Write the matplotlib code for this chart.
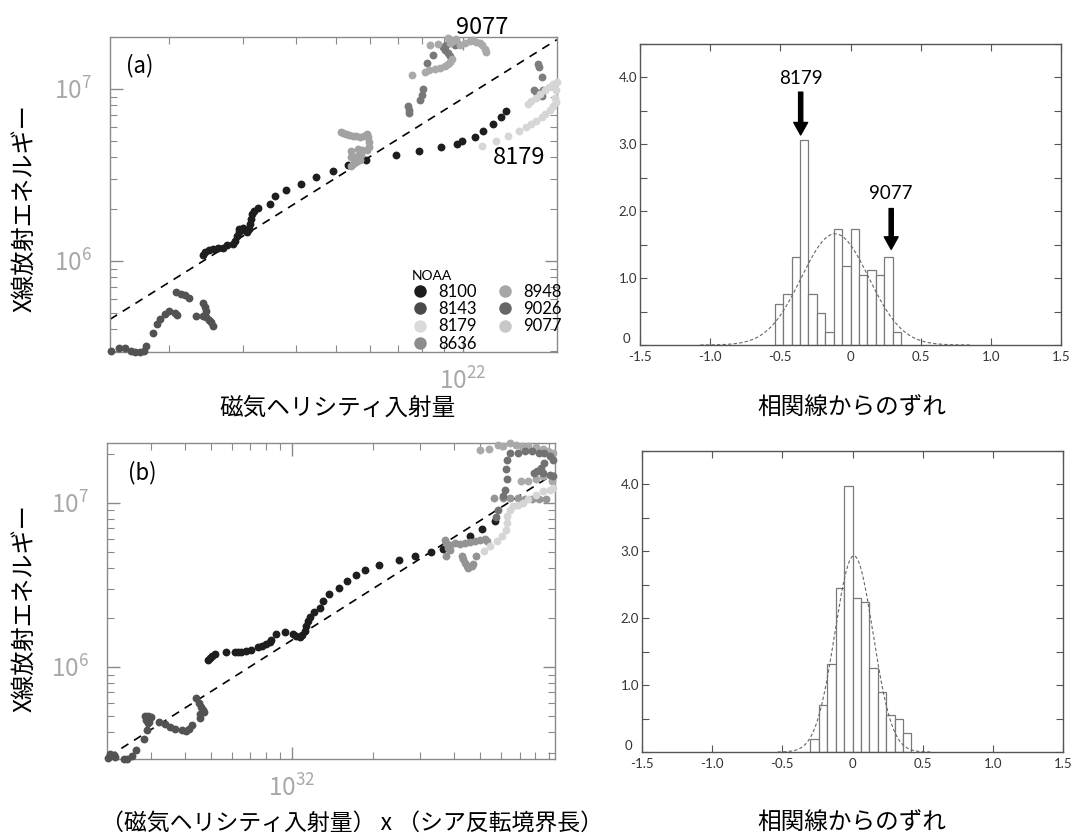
import numpy as np
import matplotlib
matplotlib.use("Agg")
import matplotlib.pyplot as plt
from matplotlib.lines import Line2D
from matplotlib.ticker import LogLocator, LogFormatterMathtext, NullFormatter, FixedLocator, FuncFormatter

plt.rcParams['font.family'] = ['Noto Sans CJK JP', 'DejaVu Sans']
plt.rcParams['mathtext.fontset'] = 'custom'
plt.rcParams['mathtext.rm'] = 'Lato:light'
plt.rcParams['mathtext.default'] = 'regular'

# ---- panel (a): x in 1e21, y in 1e6 ----
a_8143_x = [1.45, 1.52, 1.57, 1.62, 1.66, 1.70, 1.74, 1.76, 1.83, 1.87, 1.90, 1.95, 2.00, 2.06,
            2.09, 2.08, 2.13, 2.18, 2.23, 2.31, 2.40, 2.43, 2.44, 2.41, 2.45, 2.48, 2.51, 2.54]
a_8143_y = [0.297, 0.31, 0.31, 0.30, 0.296, 0.296, 0.30, 0.32, 0.38, 0.43, 0.46, 0.49, 0.51, 0.50,
            0.485, 0.66, 0.645, 0.63, 0.61, 0.48, 0.57, 0.54, 0.51, 0.48, 0.47, 0.45, 0.44, 0.42]

a_8100_x = [2.41, 2.43, 2.48, 2.54, 2.61, 2.68, 2.75, 2.84, 2.86, 2.90, 2.93, 2.93, 2.99, 3.04,
            3.07, 3.10, 3.11, 3.13, 3.15, 3.18, 3.26, 3.47, 3.58, 3.80, 4.12, 4.47, 4.91, 5.32,
            5.87, 6.93, 7.88, 8.86, 9.67, 9.96, 10.67, 11.2, 11.8, 12.3, 12.7]
a_8100_y = [1.08, 1.12, 1.16, 1.17, 1.19, 1.185, 1.23, 1.26, 1.31, 1.39, 1.47, 1.54, 1.55, 1.50,
            1.47, 1.54, 1.64, 1.76, 1.88, 1.94, 2.03, 2.15, 2.38, 2.59, 2.81, 3.07, 3.33, 3.59,
            3.88, 4.14, 4.37, 4.57, 4.78, 4.96, 5.23, 5.72, 6.25, 6.90, 7.41]

a_8948_x = [5.12, 5.19, 5.27, 5.37, 5.48, 5.58, 5.70, 5.81, 5.90, 5.96, 5.98, 5.98, 5.90, 5.43,
            5.64, 5.75, 5.43, 5.53, 5.64, 5.72, 5.70, 5.58, 5.48, 5.43]
a_8948_y = [5.64, 5.54, 5.47, 5.40, 5.35, 5.30, 5.23, 5.30, 5.47, 5.23, 4.89, 4.57, 4.41, 4.37,
            4.47, 4.43, 4.00, 4.00, 4.05, 4.14, 3.83, 3.74, 3.66, 3.58]

a_9077_x = [7.56, 8.14, 8.33, 8.57, 8.81, 9.05, 9.21, 9.34, 9.43, 8.37, 8.72, 9.21, 9.39, 9.50,
            9.62, 9.34, 9.82, 10.1, 10.38, 10.56, 10.77, 10.96, 11.11, 11.27, 11.33]
a_9077_y = [12.0, 12.5, 12.8, 13.1, 13.2, 13.5, 13.9, 14.3, 14.8, 18.0, 18.3, 19.8, 19.3, 18.9,
            19.5, 18.4, 17.9, 18.4, 18.9, 19.3, 18.7, 18.4, 17.9, 17.1, 16.4]

a_9026_x = [7.40, 7.43, 7.45, 7.92, 7.98, 8.03, 8.22, 8.48, 8.96, 9.08, 9.21, 9.30, 9.67, 9.56, 9.14]
a_9026_y = [7.89, 7.48, 7.21, 8.55, 9.22, 10.0, 14.2, 15.8, 17.5, 16.7, 16.1, 15.6, 18.4, 17.9, 17.9]

a_8636_x = [15.1, 15.18, 15.45, 14.8, 14.9, 15.18, 15.4, 15.5]
a_8636_y = [13.9, 13.4, 11.7, 9.78, 9.56, 9.35, 9.14, 9.78]

a_8179_x = [11.11, 11.97, 12.8, 13.6, 14.17, 14.56, 14.97, 15.4, 15.7, 16.1, 16.37, 16.7,
            14.3, 14.56, 14.97, 15.3, 15.66, 16.03, 16.37, 16.75, 16.6, 16.7]
a_8179_y = [4.63, 4.96, 5.30, 5.67, 5.98, 6.25, 6.54, 6.84, 7.15, 7.55, 7.89, 8.36,
            8.11, 8.48, 8.87, 9.35, 9.87, 10.3, 10.7, 10.9, 8.8, 9.78]

a_fit_x = [1.445, 16.75]
a_fit_y = [0.457, 19.3]

# ---- panel (b): x in 1e31, y in 1e6 ----
b_8143_x = [2.07, 2.12, 2.18, 2.21, 2.38, 2.45, 2.55, 2.65, 2.82, 2.90, 2.92, 2.84, 2.92, 2.99,
            2.88, 2.94, 3.20, 3.39, 3.52, 3.67, 3.90, 4.03, 4.14, 4.27, 4.42, 4.51, 4.59, 4.68,
            4.72, 4.55, 4.55]
b_8143_y = [0.279, 0.295, 0.292, 0.283, 0.275, 0.275, 0.285, 0.310, 0.366, 0.415, 0.456, 0.50,
            0.50, 0.493, 0.473, 0.46, 0.46, 0.451, 0.431, 0.419, 0.411, 0.405, 0.419, 0.445,
            0.647, 0.603, 0.570, 0.55, 0.529, 0.519, 0.489]

b_8100_x = [4.88, 4.95, 5.05, 5.17, 5.68, 6.13, 6.31, 6.49, 6.78, 7.03, 7.48, 7.74, 8.04, 8.28,
            8.39, 8.76, 9.46, 10.09, 10.39, 10.7, 10.93, 11.16, 11.32, 11.47, 11.65, 12.05,
            12.77, 13.05, 13.74, 14.92, 16.0, 17.37, 18.64, 21.0, 24.93, 28.76, 32.71, 36.4,
            46.0, 50.6, 56.65]
b_8100_y = [1.10, 1.135, 1.17, 1.205, 1.23, 1.24, 1.24, 1.24, 1.25, 1.275, 1.32, 1.35, 1.39,
            1.43, 1.47, 1.60, 1.63, 1.60, 1.55, 1.52, 1.575, 1.65, 1.77, 1.90, 2.02, 2.15, 2.29,
            2.51, 2.80, 3.03, 3.33, 3.62, 3.89, 4.19, 4.49, 4.77, 5.0, 5.24, 6.26, 6.94, 7.73]

b_8636_x = [36.95, 37.5, 38.6, 40.3, 42.0, 43.85, 45.77, 47.75, 49.85, 52.0, 52.96, 37.98, 38.6,
            37.5, 42.66, 43.2, 43.85, 44.5, 45.07, 46.5, 47.0, 48.2]
b_8636_y = [5.98, 5.70, 5.57, 5.70, 5.65, 5.70, 5.75, 5.84, 5.98, 6.03, 5.84, 5.31, 5.14, 4.77,
            4.73, 4.56, 4.31, 4.11, 4.02, 4.11, 4.27, 4.73]

b_8948_x = [56.5, 61.0, 64.8, 68.9, 73.2, 77.8, 82.8, 87.9]
b_8948_y = [10.7, 10.7, 10.7, 10.7, 10.5, 10.5, 10.5, 10.5]

b_9077_x = [50.0, 54.0, 58.2, 61.0, 64.4, 67.9, 71.4, 75.5, 80.3, 85.3, 89.3, 93.0,
            71.0, 75.5, 80.3, 85.3, 92.1]
b_9077_y = [20.9, 21.3, 22.7, 22.4, 23.2, 22.7, 22.2, 22.4, 21.9, 21.3, 20.6, 20.2,
            13.55, 13.7, 13.9, 14.5, 13.55]

b_9026_x = [62.9, 62.5, 62.9, 61.9, 61.0, 58.2, 57.4, 64.8, 68.9, 73.2, 77.8, 82.8, 86.6, 90.7,
            93.5, 86.6, 84.0, 81.5, 79.0, 85.3, 90.7, 93.5]
b_9026_y = [18.4, 16.1, 13.9, 12.06, 11.1, 9.11, 8.21, 20.2, 20.2, 20.6, 20.6, 20.2, 20.2, 19.3,
            18.4, 17.5, 16.3, 15.6, 15.2, 15.2, 14.9, 14.5]

b_8179_x = [51.5, 54.6, 57.7, 60.4, 62.3, 62.9, 62.9, 64.4, 66.2, 69.1, 72.1, 75.5, 80.3, 85.3,
            90.7, 93.5]
b_8179_y = [5.07, 5.44, 5.84, 6.26, 6.88, 7.55, 8.29, 9.11, 9.54, 9.77, 10.0, 10.5, 11.2, 11.8,
            12.06, 12.3]

b_fit_x = [2.09, 94.8]
b_fit_y = [0.285, 15.2]

# ---- histograms of deviation ----
hist_a_left = -0.54
hist_a_heights = [0.62, 0.76, 1.32, 3.07, 0.76, 0.48, 0.20, 1.74, 1.18, 1.74, 1.04, 1.12, 1.04, 1.32, 0.20]
hist_b_left = -0.30
hist_b_heights = [0.20, 0.70, 1.32, 2.45, 3.97, 2.30, 2.24, 1.26, 0.90, 0.56, 0.49, 0.28]
bin_w = 0.06
gauss_a = (-0.11, 0.24)   # mean, sigma
gauss_b = (0.01, 0.136)

noaa = ['8100', '8143', '8179', '8636', '8948', '9026', '9077']
legend_colors = ['#1c1c1c', '#4a4a4a', '#dadada', '#8c8c8c', '#a6a6a6', '#666666', '#c8c8c8']

W, H = 1071, 835
fig = plt.figure(figsize=(W / 100, H / 100), dpi=100)


def box(l, t, r, b):
    return [l / W, 1 - b / H, (r - l) / W, (b - t) / H]


ax_a = fig.add_axes(box(110, 37, 557, 352))
ax_b = fig.add_axes(box(107, 443, 555, 759))
ax_ha = fig.add_axes(box(640, 44, 1061, 345))
ax_hb = fig.add_axes(box(642, 451, 1063, 752))


def style_log(ax, xlim, ylim):
    ax.set_xscale('log')
    ax.set_yscale('log')
    ax.set_xlim(*xlim)
    ax.set_ylim(*ylim)
    for a in (ax.xaxis, ax.yaxis):
        a.set_major_locator(LogLocator(base=10))
        a.set_minor_locator(LogLocator(base=10, subs=range(2, 10)))
        a.set_major_formatter(LogFormatterMathtext())
        a.set_minor_formatter(NullFormatter())
    ax.tick_params(which='both', direction='in', top=True, right=True, color='#8a8a8a',
                   labelcolor='#a8a8a8', labelsize=17.5)
    ax.tick_params(which='major', length=9, width=1)
    ax.tick_params(which='minor', length=5, width=0.8)
    ax.tick_params(axis='y', pad=13)
    ax.tick_params(axis='x', pad=12)
    for s in ax.spines.values():
        s.set_color('#8a8a8a')
        s.set_linewidth(1.0)


def scatter_all(ax, series, xs_unit):
    for xs, ys, col in series:
        ax.scatter(np.array(xs) * xs_unit, np.array(ys) * 1e6, s=32, c=col, linewidths=0,
                   clip_on=False, zorder=3)


label_font = ['Noto Sans CJK JP', 'DejaVu Sans']

style_log(ax_a, (1.445e21, 1.676e22), (0.295e6, 2.0e7))
scatter_all(ax_a, [
    (a_8143_x, a_8143_y, '#525252'),
    (a_8100_x, a_8100_y, '#1e1e1e'),
    (a_8948_x, a_8948_y, '#a2a2a2'),
    (a_9026_x, a_9026_y, '#787878'),
    (a_9077_x, a_9077_y, '#a9a9a9'),
    (a_8636_x, a_8636_y, '#7e7e7e'),
    (a_8179_x, a_8179_y, '#d6d6d6'),
], 1e21)
ax_a.plot(np.array(a_fit_x) * 1e21, np.array(a_fit_y) * 1e6, color='black', lw=1.2,
          ls=(0, (5, 4)), zorder=2)
ax_a.text(0.036, 0.91, '(a)', transform=ax_a.transAxes, fontsize=16, ha='left', va='center',
          family=label_font)
ax_a.text(11.1e21, 22.6e6, '9077', fontsize=17, ha='center', va='center', clip_on=False,
          family=label_font)
ax_a.text(13.65e21, 3.98e6, '8179', fontsize=17, ha='center', va='center',
          family=label_font)

handles = [Line2D([], [], ls='', marker='o', markersize=9, markerfacecolor=c,
                  markeredgewidth=0) for c in legend_colors]
leg = ax_a.legend(handles, noaa, title='NOAA', ncol=2, loc='upper left',
                  bbox_to_anchor=(0.66, 0.28), frameon=False, handlelength=1.0,
                  handletextpad=0.6, columnspacing=1.2, labelspacing=0.08,
                  borderaxespad=0, alignment='left',
                  prop={'family': 'Lato', 'size': 12}, title_fontproperties={'family': 'Lato', 'size': 10})

style_log(ax_b, (2.06e31, 9.48e32), (0.275e6, 2.32e7))
scatter_all(ax_b, [
    (b_8143_x, b_8143_y, '#525252'),
    (b_8100_x, b_8100_y, '#1e1e1e'),
    (b_8636_x, b_8636_y, '#939393'),
    (b_8948_x, b_8948_y, '#969696'),
    (b_9077_x, b_9077_y, '#a9a9a9'),
    (b_9026_x, b_9026_y, '#727272'),
    (b_8179_x, b_8179_y, '#d6d6d6'),
], 1e31)
ax_b.plot(np.array(b_fit_x) * 1e31, np.array(b_fit_y) * 1e6, color='black', lw=1.2,
          ls=(0, (5, 4)), zorder=2)
ax_b.text(0.047, 0.905, '(b)', transform=ax_b.transAxes, fontsize=16, ha='left', va='center',
          family=label_font)


def y_fmt(v, pos):
    if abs(v) < 1e-9:
        return ''
    if abs(v - round(v)) < 1e-9:
        return '%.1f' % v
    return ''


def x_fmt(v, pos):
    if abs(v) < 1e-9:
        return '0'
    return '%.1f' % v


def style_hist(ax, left, heights, gauss):
    edges = left + bin_w * np.arange(len(heights))
    ax.bar(edges, heights, width=bin_w, align='edge', facecolor='white', edgecolor='#7a7a7a',
           linewidth=0.9, zorder=2)
    mu, sig = gauss
    gx = np.linspace(mu - 4 * sig, mu + 4 * sig, 300)
    gy = np.exp(-0.5 * ((gx - mu) / sig) ** 2) / (sig * np.sqrt(2 * np.pi))
    ax.plot(gx, gy, color='#666666', lw=0.8, ls=(0, (3, 2)), zorder=3)
    ax.set_xlim(-1.5, 1.5)
    ax.set_ylim(0, 4.5)
    ax.xaxis.set_major_locator(FixedLocator(np.arange(-1.5, 1.51, 0.5)))
    ax.yaxis.set_major_locator(FixedLocator(np.arange(0, 4.51, 0.5)))
    ax.xaxis.set_major_formatter(FuncFormatter(x_fmt))
    ax.yaxis.set_major_formatter(FuncFormatter(y_fmt))
    ax.tick_params(direction='in', top=True, right=True, length=5, width=0.8, color='#555555',
                   labelsize=9.5, labelcolor='#333333')
    ax.tick_params(axis='x', pad=4)
    ax.tick_params(axis='y', pad=2)
    for lbl in ax.get_xticklabels() + ax.get_yticklabels():
        lbl.set_family('Lato')
    # the zero of the count axis sits just above-left of the "-1.5" of the x axis
    ax.text(-0.022, 0.09, '0', transform=ax.get_yaxis_transform(), ha='right', va='center',
            fontsize=9.5, family='Lato', color='#333333')
    for s in ax.spines.values():
        s.set_color('#555555')
        s.set_linewidth(1.0)


style_hist(ax_ha, hist_a_left, hist_a_heights, gauss_a)
style_hist(ax_hb, hist_b_left, hist_b_heights, gauss_b)

arrow = dict(facecolor='black', edgecolor='black', width=3, headwidth=10, headlength=9, shrink=0)
ax_ha.annotate('', xy=(-0.355, 3.14), xytext=(-0.355, 3.78), arrowprops=arrow)
ax_ha.text(-0.355, 3.98, '8179', ha='center', va='center', fontsize=13.5, family='Lato')
ax_ha.annotate('', xy=(0.29, 1.43), xytext=(0.29, 2.04), arrowprops=arrow)
ax_ha.text(0.29, 2.26, '9077', ha='center', va='center', fontsize=13.5, family='Lato')

# axis titles
fig.text(24 / W, 1 - 208 / H, 'X線放射エネルギー', rotation=90, ha='center', va='center', fontsize=17.5)
fig.text(24 / W, 1 - 608 / H, 'X線放射エネルギー', rotation=90, ha='center', va='center', fontsize=17.5)
fig.text(337 / W, 1 - 408 / H, '磁気ヘリシティ入射量', ha='center', va='center', fontsize=17)
fig.text(352 / W, 1 - 823 / H, '（磁気ヘリシティ入射量） x （シア反転境界長）', ha='center', va='center',
         fontsize=16.5)
fig.text(852 / W, 1 - 408 / H, '相関線からのずれ', ha='center', va='center', fontsize=17)
fig.text(852 / W, 1 - 823 / H, '相関線からのずれ', ha='center', va='center', fontsize=17)

fig.savefig('out.png', dpi=100)
